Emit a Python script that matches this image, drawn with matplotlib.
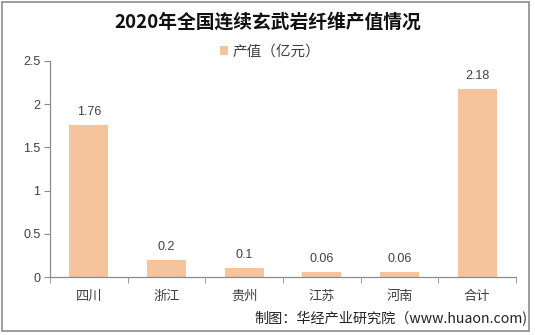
import matplotlib
matplotlib.use("Agg")
import matplotlib.pyplot as plt
from matplotlib.patches import Rectangle

plt.rcParams['font.family'] = ['Liberation Sans', 'Noto Sans CJK SC', 'DejaVu Sans']

categories = ['四川', '浙江', '贵州', '江苏', '河南', '合计']
values = [1.76, 0.2, 0.1, 0.06, 0.06, 2.18]
labels = ['1.76', '0.2', '0.1', '0.06', '0.06', '2.18']
yticks = [0, 0.5, 1, 1.5, 2, 2.5]
ytick_labels = ['0', '0.5', '1', '1.5', '2', '2.5']

bar_color = '#F5C49C'
axis_color = '#8C8C8C'
text_color = '#404040'

fig = plt.figure(figsize=(5.35, 3.35), dpi=100)
ax = fig.add_axes([0.0935, 0.173, 0.871, 0.645])

x = list(range(len(categories)))
ax.bar(x, values, width=0.5, color=bar_color, label='产值（亿元）', zorder=2)
for xi, v, lab in zip(x, values, labels):
    ax.annotate(lab, (xi, v), xytext=(0, 5), textcoords='offset points',
                ha='center', va='bottom', fontsize=9, color=text_color)

ax.set_xlim(-0.5, len(categories) - 0.5)
ax.set_ylim(0, 2.5)
ax.set_yticks(yticks)
ax.set_yticklabels(ytick_labels)
ax.set_xticks(x)
ax.set_xticklabels(categories, fontfamily=['Noto Sans CJK SC'])
ax.set_xticks([i - 0.5 for i in range(len(categories) + 1)], minor=True)
ax.tick_params(axis='x', which='major', length=0, pad=9, labelsize=9.5, labelcolor=text_color)
ax.tick_params(axis='x', which='minor', length=4, color=axis_color, direction='out')
ax.tick_params(axis='y', length=4, color=axis_color, labelsize=9, labelcolor=text_color, pad=3)

for s in ['top', 'right']:
    ax.spines[s].set_visible(False)
for s in ['left', 'bottom']:
    ax.spines[s].set_color(axis_color)
    ax.spines[s].set_linewidth(0.9)

fig.text(0.5, 0.933, '2020年全国连续玄武岩纤维产值情况', ha='center', va='center',
         fontsize=13.5, fontweight='bold', family=['Noto Sans CJK SC'], color='#111111')

leg = fig.legend(loc='center', bbox_to_anchor=(0.505, 0.845), frameon=False,
                 prop={'family': ['Noto Sans CJK SC'], 'size': 10.5},
                 handlelength=0.55, handleheight=0.55, handletextpad=0.3)
for t in leg.get_texts():
    t.set_color(text_color)

fig.text(0.985, 0.05, '制图：华经产业研究院（www.huaon.com)', ha='right', va='center',
         fontsize=10.2, family=['Noto Sans CJK SC', 'DejaVu Sans'], color='#222222')

fig.patches.append(Rectangle((0.004, 0.012), 0.985, 0.982, transform=fig.transFigure,
                             fill=False, edgecolor='#8C8C8C', linewidth=1.2))

fig.savefig('out.png', dpi=100)
